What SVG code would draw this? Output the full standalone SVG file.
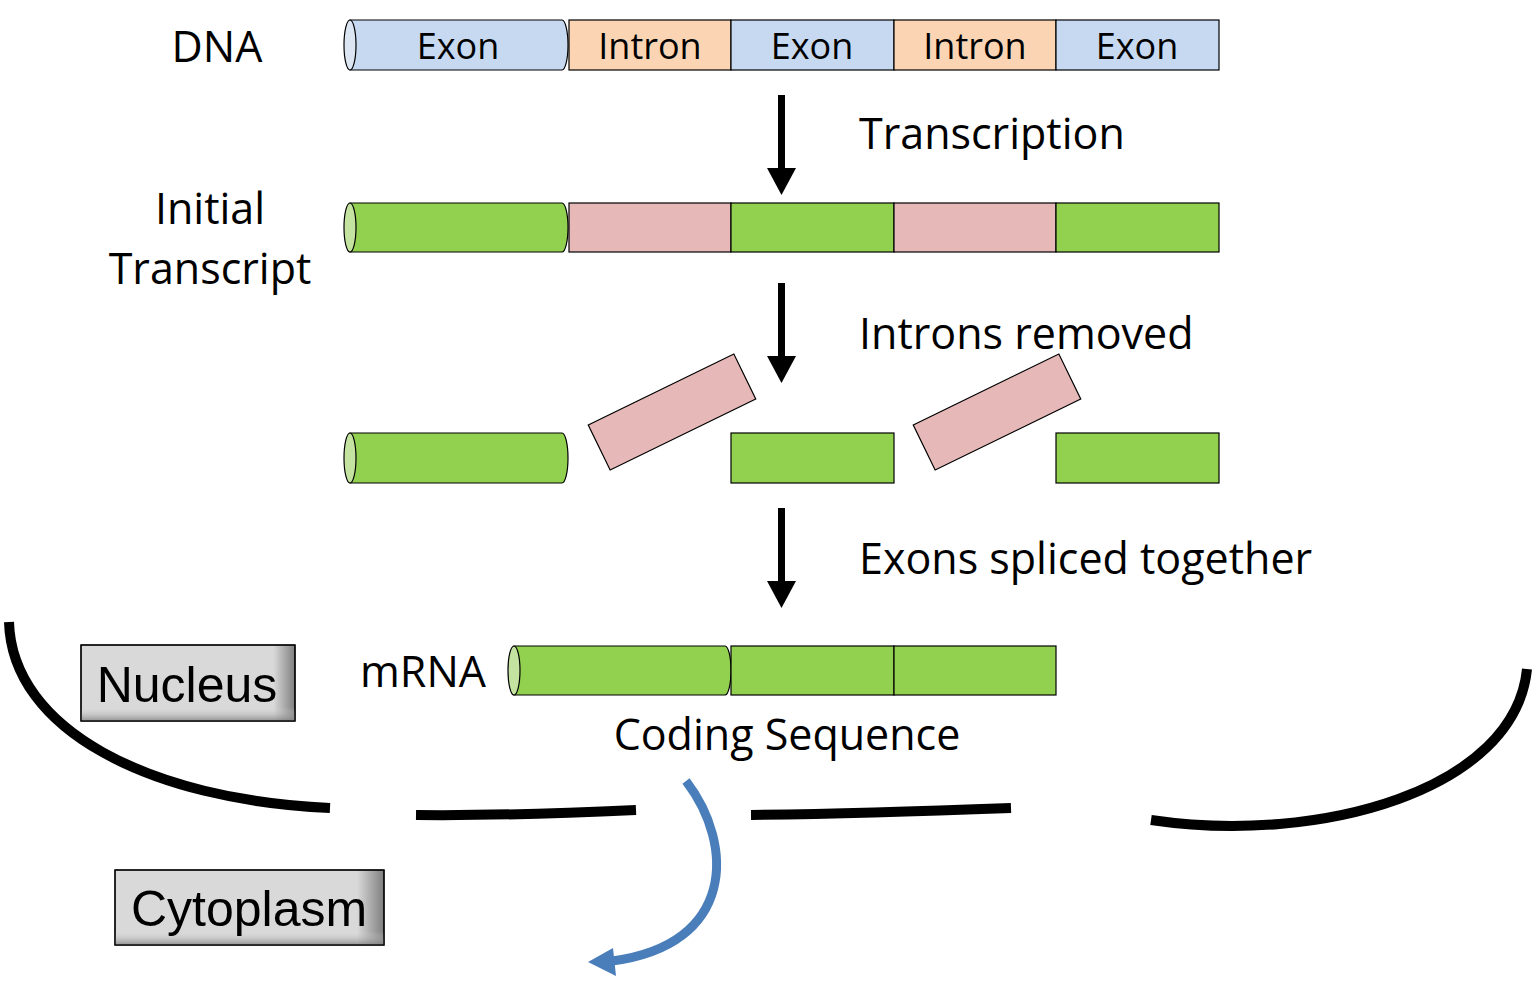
<svg xmlns="http://www.w3.org/2000/svg" width="1534" height="991" viewBox="0 0 1534 991">
<style>
.t{font-family:"Open Sans",Lato,sans-serif;fill:#000}
.lb{font-size:36px}
.big{font-size:43px}
.ex{fill:#c6d9f1;stroke:#000;stroke-width:1.2}
.in{fill:#fbd4b4;stroke:#000;stroke-width:1.2}
.g{fill:#92d050;stroke:#000;stroke-width:1.2}
.p{fill:#e6b9b8;stroke:#000;stroke-width:1.2}
.capb{fill:#dce6f2;stroke:#000;stroke-width:1.2}
.capg{fill:#c4e3a0;stroke:#000;stroke-width:1.2}
.env{fill:none;stroke:#000;stroke-width:10}
.box{stroke:#000;stroke-width:1.2}
.bt{font-family:"Liberation Sans",Arial,sans-serif;font-size:50px;fill:#000;text-anchor:middle}
</style>
<defs>
<linearGradient id="gh" x1="0" y1="0" x2="1" y2="0">
<stop offset="0" stop-color="#d9d9d9"/><stop offset="0.9" stop-color="#d9d9d9"/><stop offset="1" stop-color="#7f7f7f"/>
</linearGradient>
<linearGradient id="gv" x1="0" y1="0" x2="0" y2="1">
<stop offset="0" stop-color="#d9d9d9" stop-opacity="0"/><stop offset="0.82" stop-color="#d9d9d9" stop-opacity="0"/><stop offset="1" stop-color="#7f7f7f" stop-opacity="0.8"/>
</linearGradient>
</defs>

<g id="labels">
<text class="t big" x="217" y="62" text-anchor="middle">DNA</text>
<text class="t big" x="210" y="224" text-anchor="middle">Initial</text>
<text class="t big" x="210" y="284" text-anchor="middle">Transcript</text>
<text class="t big" x="859" y="149">Transcription</text>
<text class="t big" x="859" y="349">Introns removed</text>
<text class="t big" x="859" y="574">Exons spliced together</text>
<text class="t big" x="423" y="687" text-anchor="middle">mRNA</text>
<text class="t big" x="787" y="750" text-anchor="middle">Coding Sequence</text>
</g>

<g id="dna">
<path class="ex" d="M350 20 H562 A6 25 0 0 1 562 70 H350 Z"/>
<ellipse class="capb" cx="350" cy="45" rx="6" ry="25"/>
<rect class="in" x="569" y="20" width="162" height="50"/>
<rect class="ex" x="731" y="20" width="163" height="50"/>
<rect class="in" x="894" y="20" width="162" height="50"/>
<rect class="ex" x="1056" y="20" width="163" height="50"/>
<text class="t lb" x="458" y="59" text-anchor="middle">Exon</text>
<text class="t lb" x="650" y="59" text-anchor="middle">Intron</text>
<text class="t lb" x="812" y="59" text-anchor="middle">Exon</text>
<text class="t lb" x="975" y="59" text-anchor="middle">Intron</text>
<text class="t lb" x="1137" y="59" text-anchor="middle">Exon</text>
</g>

<g id="transcript">
<path class="g" d="M350 203 H562 A6 24.5 0 0 1 562 252 H350 Z"/>
<ellipse class="capg" cx="350" cy="227.5" rx="6" ry="24.5"/>
<rect class="p" x="569" y="203" width="162" height="49"/>
<rect class="g" x="731" y="203" width="163" height="49"/>
<rect class="p" x="894" y="203" width="162" height="49"/>
<rect class="g" x="1056" y="203" width="163" height="49"/>
</g>

<g id="split">
<path class="g" d="M350 433 H562 A6 25 0 0 1 562 483 H350 Z"/>
<ellipse class="capg" cx="350" cy="458" rx="6" ry="25"/>
<rect class="p" x="-81" y="-25" width="162" height="50" transform="translate(672 412) rotate(-26)"/>
<rect class="g" x="731" y="433" width="163" height="50"/>
<rect class="p" x="-81" y="-25" width="162" height="50" transform="translate(997 412) rotate(-26)"/>
<rect class="g" x="1056" y="433" width="163" height="50"/>
</g>

<g id="mrna">
<path class="g" d="M514 646 H725 A6 24.5 0 0 1 725 695 H514 Z"/>
<ellipse class="capg" cx="514" cy="670.5" rx="6" ry="24.5"/>
<rect class="g" x="731" y="646" width="163" height="49"/>
<rect class="g" x="894" y="646" width="162" height="49"/>
</g>

<g id="nucleus">
<rect class="box" x="81" y="645" width="214" height="76" fill="url(#gh)"/>
<rect x="81" y="645" width="214" height="76" fill="url(#gv)"/>
<rect x="81" y="645" width="214" height="76" fill="none" stroke="#000" stroke-width="1.2"/>
<text class="bt" x="187" y="702">Nucleus</text>
</g>

<g id="cytoplasm">
<rect class="box" x="115" y="870" width="269" height="75" fill="url(#gh)"/>
<rect x="115" y="870" width="269" height="75" fill="url(#gv)"/>
<rect x="115" y="870" width="269" height="75" fill="none" stroke="#000" stroke-width="1.2"/>
<text class="bt" x="249" y="926">Cytoplasm</text>
</g>

<g id="envelope">
<path class="env" d="M9 622 C12 730 150 800 330 808"/>
<path class="env" d="M416 815 C500 816 570 813 636 810"/>
<path class="env" d="M751 815 C840 814 930 811 1011 808"/>
<path class="env" d="M1151 820 C1320 845 1515 790 1527 669"/>
</g>

<g id="connectors">
<line x1="781.5" y1="95" x2="781.5" y2="168" stroke="#000" stroke-width="7"/>
<path d="M767 168 H796 L781.5 195 Z" fill="#000"/>
<line x1="781.5" y1="283" x2="781.5" y2="356" stroke="#000" stroke-width="7"/>
<path d="M767 356 H796 L781.5 383 Z" fill="#000"/>
<line x1="781.5" y1="508" x2="781.5" y2="581" stroke="#000" stroke-width="7"/>
<path d="M767 581 H796 L781.5 608 Z" fill="#000"/>
<path d="M686 781 C735 845 735 945 612 961" fill="none" stroke="#4a7ebb" stroke-width="9"/>
<path d="M588 962 L613 948 L616 976 Z" fill="#4a7ebb"/>
</g>
</svg>
